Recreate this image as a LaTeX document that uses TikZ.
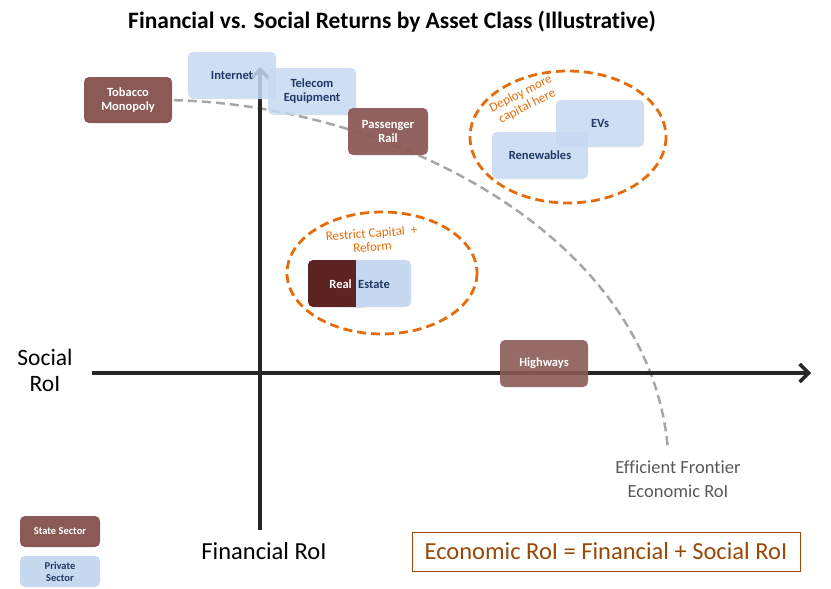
\documentclass[tikz,border=0pt]{standalone}
\usepackage{fontspec}
\setmainfont{Carlito}[Ligatures=NoCommon]
\usetikzlibrary{arrows.meta}
\definecolor{statec}{HTML}{8B5A56}
\definecolor{darkre}{HTML}{5E2424}
\definecolor{privc}{HTML}{C6D9F1}
\definecolor{privtxt}{HTML}{1F3864}
\definecolor{orangec}{HTML}{E46C0A}
\definecolor{eqc}{HTML}{984807}
\definecolor{axisc}{HTML}{262626}
\definecolor{frontc}{HTML}{A6A6A6}
\tikzset{
  statebox/.style={fill=statec, rounded corners=5pt, text=white, font=\bfseries\fontsize{12.5}{14}\selectfont, align=center, inner sep=0pt},
  privbox/.style={fill=privc, fill opacity=0.85, text opacity=1, rounded corners=5pt, text=privtxt, font=\bfseries\fontsize{12.5}{14}\selectfont, align=center, inner sep=0pt},
  axisline/.style={draw=axisc, line width=3.5pt, -{Straight Barb[length=9pt,width=18pt]}},
  frontier/.style={draw=frontc, line width=2.5pt, dash pattern=on 9pt off 5pt},
  zone/.style={draw=orangec, line width=2.8pt, dash pattern=on 9pt off 5pt},
  zonetxt/.style={text=orangec, font=\fontsize{13}{14}\selectfont, align=center, inner sep=0pt},
  bigtxt/.style={font=\fontsize{23.5}{26}\selectfont, align=center}
}
\begin{document}
\begin{tikzpicture}[x=1pt,y=-1pt]
\useasboundingbox (0,0) rectangle (831,589);
% title
\node[font=\bfseries\fontsize{23.5}{26}\selectfont] (title) at (392,22) {Financial vs. Social Returns by Asset Class (Illustrative)};
% frontier
\coordinate (fs) at (160,100);
\coordinate (fe) at (668,450);
\draw[frontier] (fs) .. controls (380,100) and (650,230) .. (fe);
% zones
\draw[zone] (568,137) ellipse [x radius=98, y radius=66];
\draw[zone] (382,273) ellipse [x radius=95, y radius=61];
\node[zonetxt, rotate=27] (deploy) at (524,100) {Deploy more\\capital here};
\node[zonetxt, rotate=4] (restrict) at (372,240) {Restrict Capital \ +\\Reform};
% axes
\coordinate (yb) at (260,530);
\coordinate (yt) at (260,67);
\coordinate (xl) at (92,373);
\coordinate (xr) at (811,373);
\draw[axisline] (yb) -- (yt);
\draw[axisline] (xl) -- (xr);
% boxes
\node[statebox, minimum width=88pt, minimum height=46pt] (tob) at (128,100) {Tobacco\\Monopoly};
\node[privbox, minimum width=88pt, minimum height=47pt] (internet) at (232,75.5) {Internet};
\node[privbox, minimum width=88pt, minimum height=47pt] (telecom) at (312,91.5) {Telecom\\Equipment};
\node[statebox, fill opacity=0.95, text opacity=1, minimum width=80pt, minimum height=47pt] (rail) at (388,131.5) {Passenger\\Rail};
\node[privbox, minimum width=88pt, minimum height=47pt] (evs) at (600,123.5) {EVs};
\node[privbox, minimum width=96pt, minimum height=47pt] (renew) at (540,155.5) {Renewables};
% real estate
\fill[privc, rounded corners=5pt] (340,260) rectangle (411,307);
\fill[darkre, rounded corners=5pt] (308,260) rectangle (370,307);
\fill[privc] (356,260) rectangle (380,307);
\node[text=white, font=\bfseries\fontsize{12.5}{14}\selectfont, anchor=east, inner sep=2pt] (real) at (354,284) {Real};
\node[text=privtxt, font=\bfseries\fontsize{12.5}{14}\selectfont, anchor=west, inner sep=2pt] (estate) at (356,284) {Estate};
\node[statebox, fill opacity=0.9, text opacity=1, minimum width=88pt, minimum height=47pt] (hwy) at (544,363.5) {Highways};
% axis labels
\node[bigtxt] (social) at (45,370) {Social\\RoI};
\node[font=\fontsize{24.5}{26}\selectfont] (fin) at (264,551) {Financial RoI};
\node[text=black!65, font=\fontsize{18.5}{24}\selectfont, align=center] (eff) at (678,479) {Efficient Frontier\\Economic RoI};
\node[draw=eqc, line width=1pt, text=eqc, font=\fontsize{24.5}{26}\selectfont, minimum width=388pt, minimum height=39pt, inner sep=0pt] (eq) at (606,551.5) {Economic RoI = Financial + Social RoI};
% legend
\node[statebox, font=\bfseries\fontsize{10.5}{12}\selectfont, minimum width=80pt, minimum height=31pt] (lstate) at (60,531.5) {State Sector};
\node[privbox, fill opacity=1, font=\bfseries\fontsize{10.5}{12}\selectfont, minimum width=80pt, minimum height=31pt] (lpriv) at (60,571.5) {Private\\Sector};
\end{tikzpicture}
\end{document}
